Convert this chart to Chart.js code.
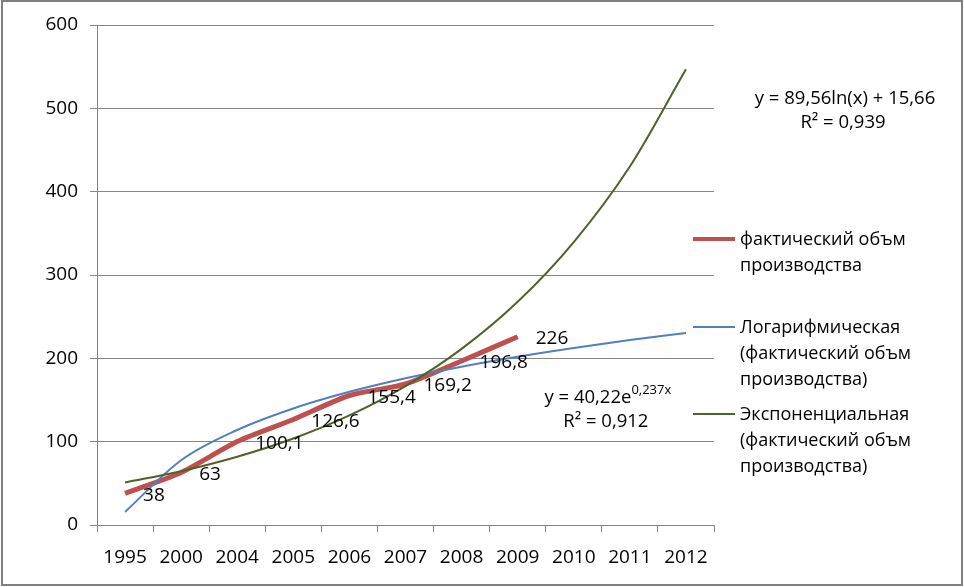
<!DOCTYPE html>
<html>
<head>
<meta charset="utf-8">
<script src="https://cdn.jsdelivr.net/npm/chart.js@4.4.0/dist/chart.umd.min.js"></script>
<style>
  html, body { margin: 0; padding: 0; background: #fff; }
  #wrap { width: 964px; height: 587px; }
</style>
</head>
<body>
<div id="wrap"><canvas id="prodChart" width="964" height="587"></canvas></div>
<script>
// categories (years) on x axis
var years = ['1995', '2000', '2004', '2005', '2006', '2007', '2008', '2009', '2010', '2011', '2012'];
// фактический объм производства (no data after 2009)
var actual = [38, 63, 100.1, 126.6, 155.4, 169.2, 196.8, 226, null, null, null];
var actualLabels = ['38', '63', '100,1', '126,6', '155,4', '169,2', '196,8', '226'];
// trendlines at each category
var logTrend = [15.7, 77.7, 114, 139.8, 159.8, 176.1, 190, 201.9, 212.4, 221.9, 230.4];
var expTrend = [51, 64.6, 81.9, 103.8, 131.5, 166.7, 211.3, 267.8, 339.5, 430.2, 547];
var yTicks = [0, 100, 200, 300, 400, 500, 600];

var seriesNames = [
  ['фактический объм', 'производства'],
  ['Логарифмическая', '(фактический объм', 'производства)'],
  ['Экспоненциальная', '(фактический объм', 'производства)']
];

var FONT = '"Open Sans", "DejaVu Sans", sans-serif';
var gridColor = '#868686';

// frame + data labels + equations + legend
var extras = {
  id: 'extras',
  beforeDraw: function(chart) {
    var ctx = chart.ctx;
    ctx.save();
    ctx.fillStyle = '#fff';
    ctx.fillRect(0, 0, chart.width, chart.height);
    ctx.strokeStyle = '#808080';
    ctx.lineWidth = 2;
    ctx.strokeRect(2, 1, chart.width - 4, chart.height - 3);
    ctx.restore();
  },
  afterDatasetsDraw: function(chart) {
    var ctx = chart.ctx;
    var area = chart.chartArea;
    ctx.save();
    ctx.fillStyle = '#000';
    ctx.font = '19px ' + FONT;
    ctx.textBaseline = 'middle';
    ctx.textAlign = 'left';

    // data labels for the actual series
    var meta = chart.getDatasetMeta(0);
    for (var i = 0; i < actualLabels.length; i++) {
      var pt = meta.data[i];
      ctx.fillText(actualLabels[i], pt.x + 18, pt.y + 2);
    }

    // log equation (upper right)
    ctx.font = '18.5px ' + FONT;
    ctx.textAlign = 'center';
    ctx.fillText('y = 89,56ln(x) + 15,66', 845, 99);
    ctx.fillText('R² = 0,939', 843, 123);

    // exp equation
    var xs = chart.scales.x;
    var ys = chart.scales.y;
    var ex = xs.getPixelForValue(9) - 22;
    var ey = ys.getPixelForValue(153);
    ctx.textAlign = 'left';
    var main = 'y = 40,22e';
    var mw = ctx.measureText(main).width;
    ctx.font = '13px ' + FONT;
    var sw = ctx.measureText('0,237x').width;
    var start = ex - (mw + sw) / 2;
    ctx.font = '18.5px ' + FONT;
    ctx.fillText(main, start, ey);
    ctx.font = '13px ' + FONT;
    ctx.fillText('0,237x', start + mw, ey - 7);
    ctx.font = '18.5px ' + FONT;
    ctx.textAlign = 'center';
    ctx.fillText('R² = 0,912', ex - 2, ey + 24);

    // legend
    var lx = area.right - 21;
    var tx = area.right + 26;
    var legendY = [239, 327, 414];
    var lineH = 26;
    ctx.font = '18px ' + FONT;
    ctx.textAlign = 'left';
    for (var d = 0; d < 3; d++) {
      var ds = chart.data.datasets[d];
      ctx.strokeStyle = ds.borderColor;
      ctx.lineWidth = d === 0 ? 4 : 2;
      ctx.beginPath();
      ctx.moveTo(lx, legendY[d]);
      ctx.lineTo(lx + 42, legendY[d]);
      ctx.stroke();
      for (var k = 0; k < seriesNames[d].length; k++) {
        ctx.fillText(seriesNames[d][k], tx, legendY[d] + 1 + k * lineH);
      }
    }
    ctx.restore();
  }
};

var ctx = document.getElementById('prodChart').getContext('2d');
var chart = new Chart(ctx, {
  type: 'line',
  data: {
    labels: years,
    datasets: [{
      label: 'фактический объм производства',
      data: actual,
      borderColor: '#C0504D',
      borderWidth: 5,
      pointRadius: 0,
      tension: 0.25,
      fill: false,
      order: 3
    },
    {
      label: 'Логарифмическая (фактический объм производства)',
      data: logTrend,
      borderColor: '#4F81BD',
      borderWidth: 2,
      pointRadius: 0,
      cubicInterpolationMode: 'monotone',
      fill: false,
      order: 2
    },
    {
      label: 'Экспоненциальная (фактический объм производства)',
      data: expTrend,
      borderColor: '#4F6228',
      borderWidth: 2,
      pointRadius: 0,
      cubicInterpolationMode: 'monotone',
      fill: false,
      order: 1
    }]
  },
  options: {
    responsive: false,
    animation: false,
    devicePixelRatio: 1,
    layout: { padding: { top: 25, right: 250, left: 0, bottom: 0 } },
    plugins: {
      legend: { display: false },
      tooltip: { enabled: false }
    },
    scales: {
      x: {
        offset: true,
        grid: {
          offset: true,
          drawOnChartArea: false,
          color: gridColor,
          tickLength: 7
        },
        border: { color: gridColor },
        ticks: {
          color: '#000',
          font: { family: FONT, size: 19 },
          padding: 14,
          maxRotation: 0,
          autoSkip: false
        },
        afterFit: function(scale) { scale.height = 62; }
      },
      y: {
        min: 0,
        max: 600,
        afterBuildTicks: function(scale) {
          scale.ticks = yTicks.map(function(v) { return { value: v }; });
        },
        grid: {
          color: gridColor,
          tickLength: 7
        },
        border: { color: gridColor },
        ticks: {
          color: '#000',
          font: { family: FONT, size: 19 },
          padding: 12
        },
        afterFit: function(scale) { scale.width = 97; }
      }
    }
  },
  plugins: [extras]
});
</script>
</body>
</html>
